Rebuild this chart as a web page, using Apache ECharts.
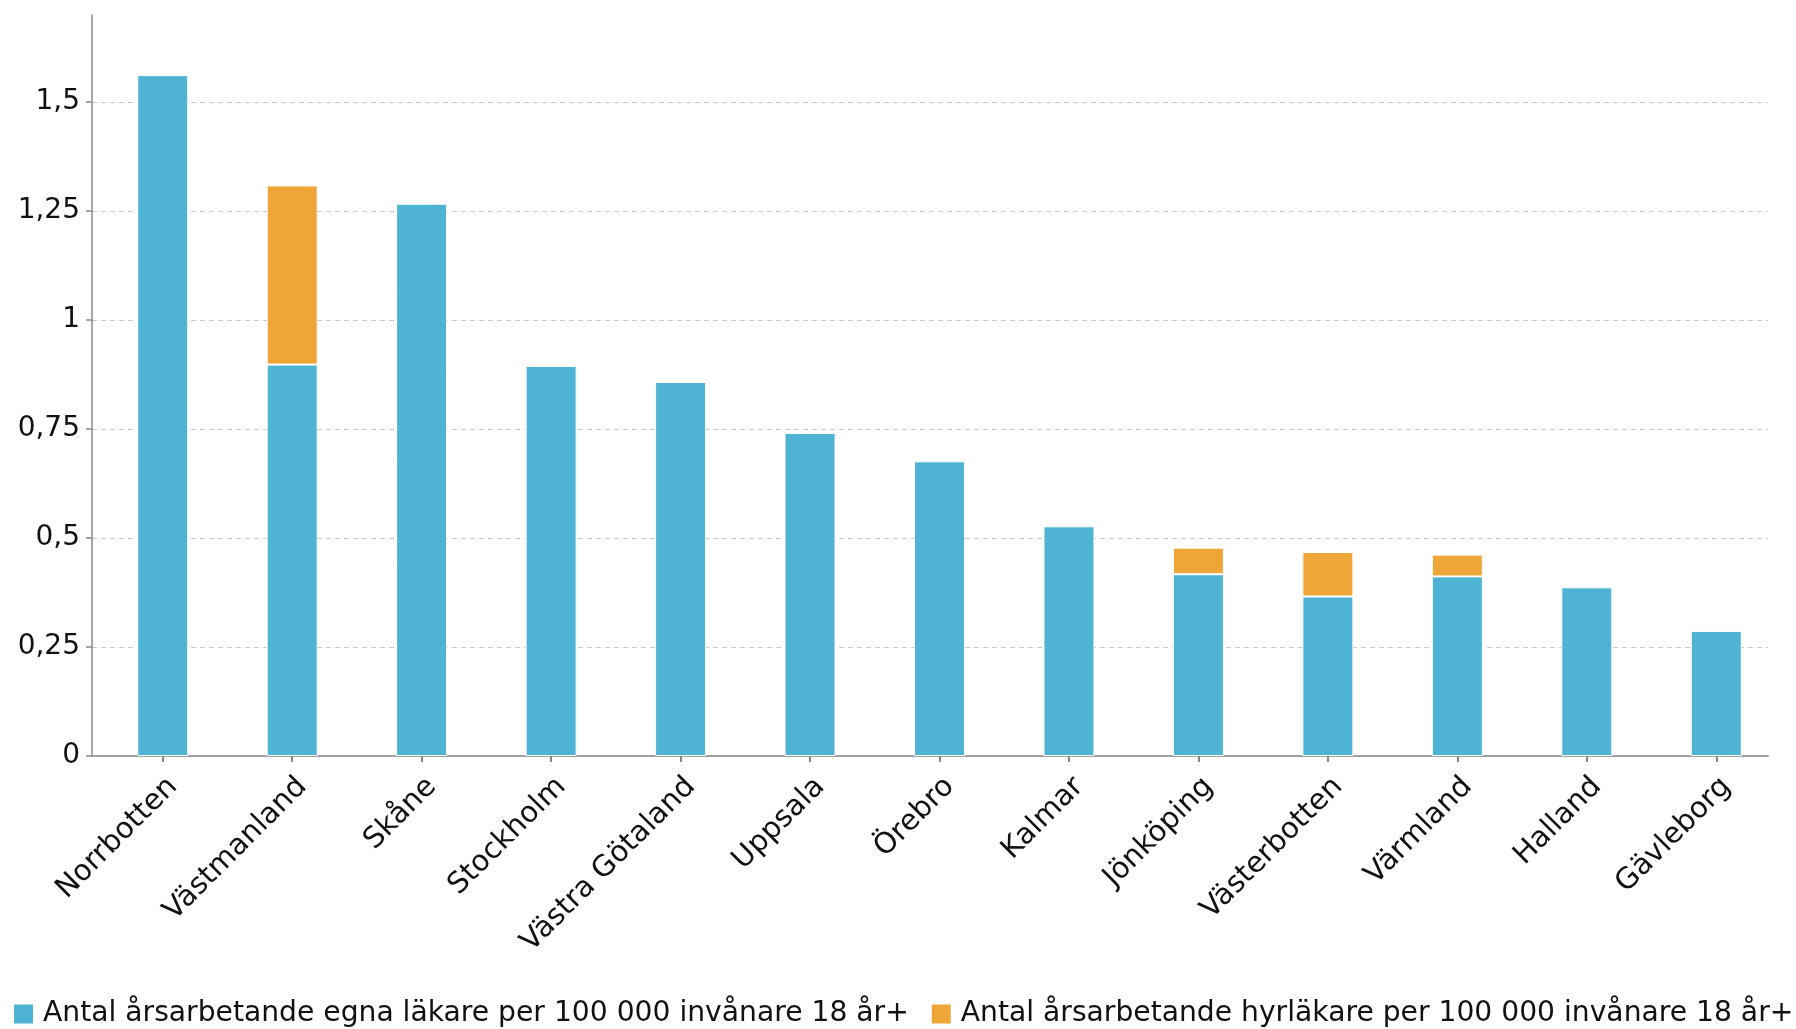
<!DOCTYPE html>
<html>
<head>
<meta charset="utf-8">
<script src="https://cdn.jsdelivr.net/npm/echarts@6/dist/echarts.min.js"></script>
<style>
html,body{margin:0;padding:0;background:#fff;}
#chart{width:1796px;height:1029px;}
</style>
</head>
<body>
<div id="chart"></div>
<script>
const categories = ['Norrbotten','Västmanland','Skåne','Stockholm','Västra Götaland','Uppsala','Örebro','Kalmar','Jönköping','Västerbotten','Värmland','Halland','Gävleborg'];
const egnaLakare = [1.562, 0.898, 1.267, 0.895, 0.858, 0.741, 0.676, 0.527, 0.417, 0.366, 0.412, 0.387, 0.287];
const hyrLakare = [0, 0.411, 0, 0, 0, 0, 0, 0, 0.061, 0.102, 0.050, 0, 0];
const yTicks = [0, 0.25, 0.5, 0.75, 1, 1.25, 1.5];
const seriesNames = ['Antal årsarbetande egna läkare per 100 000 invånare 18 år+', 'Antal årsarbetande hyrläkare per 100 000 invånare 18 år+'];

const FONT = 'DejaVu Sans';
const chart = echarts.init(document.getElementById('chart'), null, {renderer: 'canvas'});
const fmt = v => String(v).replace('.', ',');
chart.setOption({
  animation: false,
  textStyle: {fontFamily: FONT},
  color: ['#4fb3d4', '#eea638'],
  grid: [
    {left: 92, right: 28, top: 15, bottom: 273},
    {left: 98, right: 15, top: 15, bottom: 273}
  ],
  legend: {
    left: 14, top: 1000, padding: 0, width: 1782,
    icon: 'rect', itemWidth: 19, itemHeight: 19, itemGap: 23,
    itemStyle: {borderWidth: 0},
    textStyle: {fontFamily: FONT, fontSize: 28.2, color: '#111', padding: [0, 0, 0, 5]},
    data: seriesNames
  },
  xAxis: [
    {gridIndex: 0, type: 'value', min: 0, max: 1,
     axisLine: {show: true, onZero: false, lineStyle: {color: '#a0a0a0', width: 2}},
     axisTick: {show: false}, axisLabel: {show: false}, splitLine: {show: false}},
    {gridIndex: 1, type: 'category', data: categories,
     axisLine: {show: false},
     axisTick: {show: true, alignWithLabel: true, length: 6, lineStyle: {color: '#888', width: 2}},
     axisLabel: {rotate: 45, fontSize: 29, color: '#111', margin: 16, verticalAlign: 'top', fontFamily: FONT, interval: 0},
     splitLine: {show: false}}
  ],
  yAxis: [
    {gridIndex: 0, type: 'value', min: 0, max: 1.7, interval: 0.25,
     axisLine: {show: true, lineStyle: {color: '#888', width: 1.5}},
     axisTick: {show: true, length: 6, customValues: yTicks, lineStyle: {color: '#888', width: 1.5}},
     axisLabel: {customValues: yTicks, formatter: fmt, fontSize: 28, color: '#111', margin: 12, padding: [4, 0, 0, 0], fontFamily: FONT},
     splitLine: {show: true, showMaxLine: true, lineStyle: {color: '#c8c8c8', type: [5, 4], width: 1}}},
    {gridIndex: 1, type: 'value', min: 0, max: 1.7, show: false, splitLine: {show: false}}
  ],
  series: [
    {name: seriesNames[0], type: 'bar', stack: 'total', xAxisIndex: 1, yAxisIndex: 1,
     barWidth: 51, data: egnaLakare,
     itemStyle: {borderColor: '#ffffff', borderWidth: 1}},
    {name: seriesNames[1], type: 'bar', stack: 'total', xAxisIndex: 1, yAxisIndex: 1,
     barWidth: 51, data: hyrLakare.map(v => v === 0 ? null : v),
     itemStyle: {borderColor: '#ffffff', borderWidth: 1}}
  ]
});
</script>
</body>
</html>
